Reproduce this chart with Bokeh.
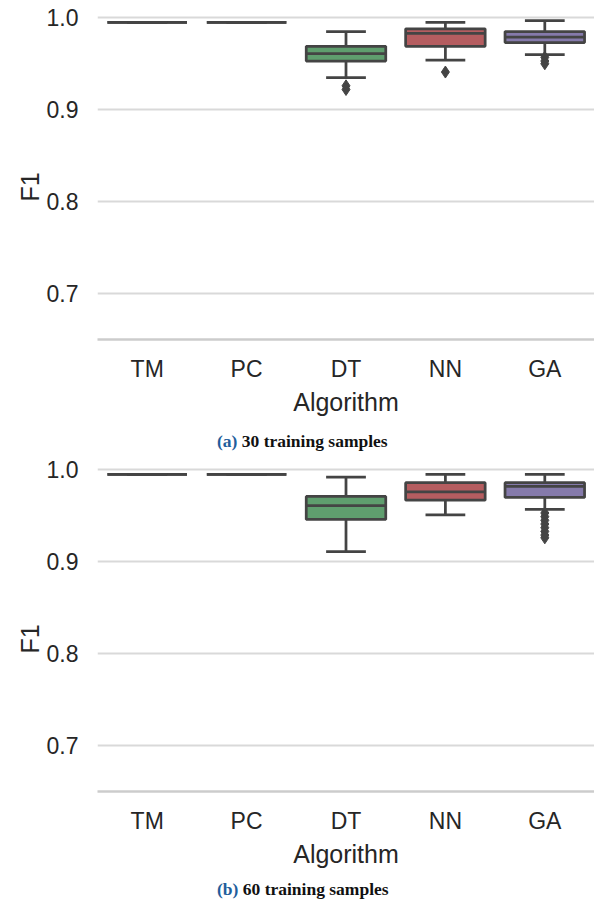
from bokeh.plotting import figure
from bokeh.layouts import column
from bokeh.models import (FactorRange, Range1d, FixedTicker, ColumnDataSource,
                          NumeralTickFormatter, Div)
from bokeh.transform import dodge
from bokeh.embed import file_html
from bokeh.resources import INLINE

# ---------------- data ----------------
categories = ["TM", "PC", "DT", "NN", "GA"]
box_colors = ["#5975a4", "#5f9e6e", "#5f9e6e", "#b55d60", "#857aab"]

# panel (a) 30 training samples
a_lower = [0.995, 0.995, 0.935, 0.954, 0.960]
a_q1 = [0.995, 0.995, 0.953, 0.969, 0.973]
a_median = [0.995, 0.995, 0.961, 0.983, 0.979]
a_q3 = [0.995, 0.995, 0.969, 0.988, 0.985]
a_upper = [0.995, 0.995, 0.985, 0.995, 0.997]
a_out_cat = ["DT", "DT", "NN", "GA", "GA", "GA"]
a_out_val = [0.926, 0.922, 0.941, 0.957, 0.953, 0.950]

# panel (b) 60 training samples
b_lower = [0.995, 0.995, 0.911, 0.951, 0.957]
b_q1 = [0.995, 0.995, 0.946, 0.967, 0.970]
b_median = [0.995, 0.995, 0.961, 0.976, 0.982]
b_q3 = [0.995, 0.995, 0.971, 0.986, 0.986]
b_upper = [0.995, 0.995, 0.992, 0.995, 0.995]
b_out_cat = ["GA"] * 8
b_out_val = [0.953, 0.949, 0.945, 0.941, 0.937, 0.933, 0.929, 0.926]

y_ticks = [0.7, 0.8, 0.9, 1.0]

LINE = "#444444"
TXT = "#262626"
FONT = "Liberation Sans"


def make_panel(lower, q1, med, q3, upper, out_cat, out_val, height, top_border):
    frame_h = 333
    p = figure(
        x_range=FactorRange(factors=categories, range_padding=0),
        y_range=Range1d(0.65, 1.0123),
        width=594, height=height,
        min_border_left=97, min_border_right=0,
        min_border_top=top_border, min_border_bottom=height - frame_h - top_border,
        output_backend="svg", toolbar_location=None,
    )
    p.outline_line_color = None
    p.background_fill_color = "white"
    p.xgrid.grid_line_color = None
    p.ygrid.grid_line_color = "#d9d9d9"
    p.ygrid.grid_line_width = 1.8
    p.yaxis.ticker = FixedTicker(ticks=y_ticks)
    p.yaxis.formatter = NumeralTickFormatter(format="0.0")

    for ax in (p.xaxis, p.yaxis):
        ax.major_tick_line_color = None
        ax.minor_tick_line_color = None
        ax.major_label_text_font = FONT
        ax.major_label_text_font_size = "23px"
        ax.major_label_text_color = TXT
        ax.axis_label_text_font = FONT
        ax.axis_label_text_font_size = "25px"
        ax.axis_label_text_font_style = "normal"
        ax.axis_label_text_color = TXT
    p.yaxis.axis_line_color = None
    p.yaxis.major_label_standoff = 13
    p.yaxis.axis_label = "F1\u00a0\u00a0\u00a0\u00a0"
    p.yaxis.axis_label_standoff = 0
    p.xaxis.axis_line_color = "#cccccc"
    p.xaxis.axis_line_width = 2.5
    p.xaxis.major_label_standoff = 10
    p.xaxis.axis_label = "Algorithm"
    p.xaxis.axis_label_standoff = 3

    src = ColumnDataSource(dict(cat=categories, lower=lower, q1=q1, med=med,
                                q3=q3, upper=upper, color=box_colors))
    lw = 2.75
    p.segment(x0="cat", x1="cat", y0="q3", y1="upper", source=src, line_color=LINE, line_width=lw)
    p.segment(x0="cat", x1="cat", y0="lower", y1="q1", source=src, line_color=LINE, line_width=lw)
    p.vbar(x="cat", width=0.8, bottom="q1", top="q3", source=src,
           fill_color="color", line_color=LINE, line_width=lw)
    p.segment(x0=dodge("cat", -0.4, range=p.x_range), x1=dodge("cat", 0.4, range=p.x_range),
              y0="med", y1="med", source=src, line_color=LINE, line_width=lw)
    p.segment(x0=dodge("cat", -0.2, range=p.x_range), x1=dodge("cat", 0.2, range=p.x_range),
              y0="upper", y1="upper", source=src, line_color=LINE, line_width=lw)
    p.segment(x0=dodge("cat", -0.2, range=p.x_range), x1=dodge("cat", 0.2, range=p.x_range),
              y0="lower", y1="lower", source=src, line_color=LINE, line_width=lw)
    osrc = ColumnDataSource(dict(cat=out_cat, val=out_val))
    p.scatter(x="cat", y="val", source=osrc, marker="diamond", size=12,
              fill_color=LINE, line_color=LINE)
    return p


def make_caption(tag, caption, height):
    html = ('<div style="font-family:\'Liberation Serif\',serif;font-weight:bold;'
            'font-size:17.5px;line-height:20px;padding-left:217px;white-space:nowrap;">'
            '<span style="color:#1f5e9c">%s</span>&nbsp;<span style="color:#111111">%s</span>'
            '</div>' % (tag, caption))
    return Div(text=html, width=594, height=height, margin=(0, 0, 0, 0))


pa = make_panel(a_lower, a_q1, a_median, a_q3, a_upper, a_out_cat, a_out_val, 431, 6)
ca = make_caption("(a)", "30 training samples", 27)
pb = make_panel(b_lower, b_q1, b_median, b_q3, b_upper, b_out_cat, b_out_val, 421, 0)
cb = make_caption("(b)", "60 training samples", 24)

layout = column(pa, ca, pb, cb, spacing=0)
open("out.html", "w").write(file_html(layout, INLINE))
